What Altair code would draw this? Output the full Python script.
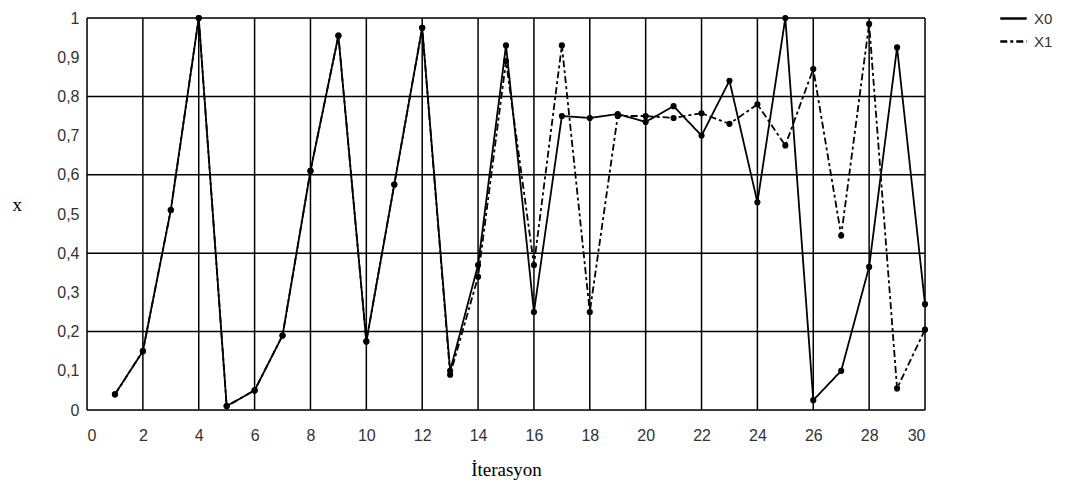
import altair as alt
import pandas as pd

iterations = list(range(1, 31))
x0_values = [0.04, 0.15, 0.51, 1.0, 0.01, 0.05, 0.19, 0.61, 0.955, 0.175,
             0.575, 0.975, 0.10, 0.37, 0.93, 0.25, 0.75, 0.745, 0.755, 0.735,
             0.775, 0.70, 0.84, 0.53, 1.0, 0.025, 0.10, 0.365, 0.925, 0.27]
x1_values = [0.04, 0.15, 0.51, 1.0, 0.01, 0.05, 0.19, 0.61, 0.955, 0.175,
             0.575, 0.975, 0.09, 0.34, 0.89, 0.37, 0.93, 0.25, 0.75, 0.75,
             0.745, 0.757, 0.73, 0.78, 0.675, 0.87, 0.445, 0.985, 0.055, 0.205]
series_names = ["X0", "X1"]
x_ticks = list(range(0, 31, 2))
y_ticks = [round(i * 0.1, 1) for i in range(11)]
v_grid = list(range(0, 31, 2))
h_grid = [0.0, 0.2, 0.4, 0.6, 0.8, 1.0]

df = pd.DataFrame({
    "iter": iterations * 2,
    "x": x0_values + x1_values,
    "series": ["X0"] * 30 + ["X1"] * 30,
})

xscale = alt.Scale(domain=[0, 30], nice=False, zero=False)
yscale = alt.Scale(domain=[0, 1], nice=False)

x_axis = alt.Axis(values=x_ticks, title="İterasyon", grid=False,
                  ticks=False, domain=False, labelFontSize=16,
                  labelFont="Liberation Sans", labelColor="#333",
                  labelPadding=17, labelOverlap=False,
                  titleFont="Liberation Serif",
                  titleFontSize=19, titleFontWeight="normal",
                  titleColor="black", titlePadding=17)
y_axis = alt.Axis(values=y_ticks, title="x", grid=False, ticks=False,
                  domain=False, labelFontSize=16,
                  labelFont="Liberation Sans", labelColor="#333",
                  labelPadding=8, labelOverlap=False,
                  labelExpr="replace(format(datum.value, '.1~f'), '.', ',')",
                  titleAngle=0, titleFont="Liberation Serif",
                  titleFontSize=19, titleFontWeight="normal",
                  titleColor="black", titlePadding=40)

vgrid = alt.Chart(pd.DataFrame({"g": v_grid})).mark_rule(
    color="black", strokeWidth=1.5
).encode(x=alt.X("g:Q", scale=xscale, axis=x_axis))

hgrid = alt.Chart(pd.DataFrame({"g": h_grid})).mark_rule(
    color="black", strokeWidth=1.5
).encode(y=alt.Y("g:Q", scale=yscale, axis=y_axis))

lines = alt.Chart(df).mark_line(color="black", strokeWidth=1.8).encode(
    x=alt.X("iter:Q", scale=xscale, axis=x_axis),
    y=alt.Y("x:Q", scale=yscale, axis=y_axis),
    strokeDash=alt.StrokeDash(
        "series:N",
        scale=alt.Scale(domain=series_names, range=[[1, 0], [7, 3, 3, 3]]),
        legend=alt.Legend(title=None, orient="none", legendX=912, legendY=-14,
                          labelFont="Liberation Sans", labelFontSize=15,
                          labelColor="#333", symbolType="stroke",
                          symbolStrokeWidth=2.5, symbolSize=700,
                          symbolStrokeColor="black",
                          labelOffset=6, rowPadding=0),
    ),
)

points = alt.Chart(df).mark_circle(color="black", size=38, opacity=1).encode(
    x=alt.X("iter:Q", scale=xscale, axis=x_axis),
    y=alt.Y("x:Q", scale=yscale, axis=y_axis),
    detail="series:N",
)

chart = alt.layer(vgrid, hgrid, lines, points).properties(
    width=838, height=392,
    autosize=alt.AutoSizeParams(type="none"),
    padding={"left": 87, "top": 18, "right": 150, "bottom": 87},
).configure_view(stroke=None).configure(background="white")

chart.save("out.html", embed_options={"renderer": "svg", "actions": False})
